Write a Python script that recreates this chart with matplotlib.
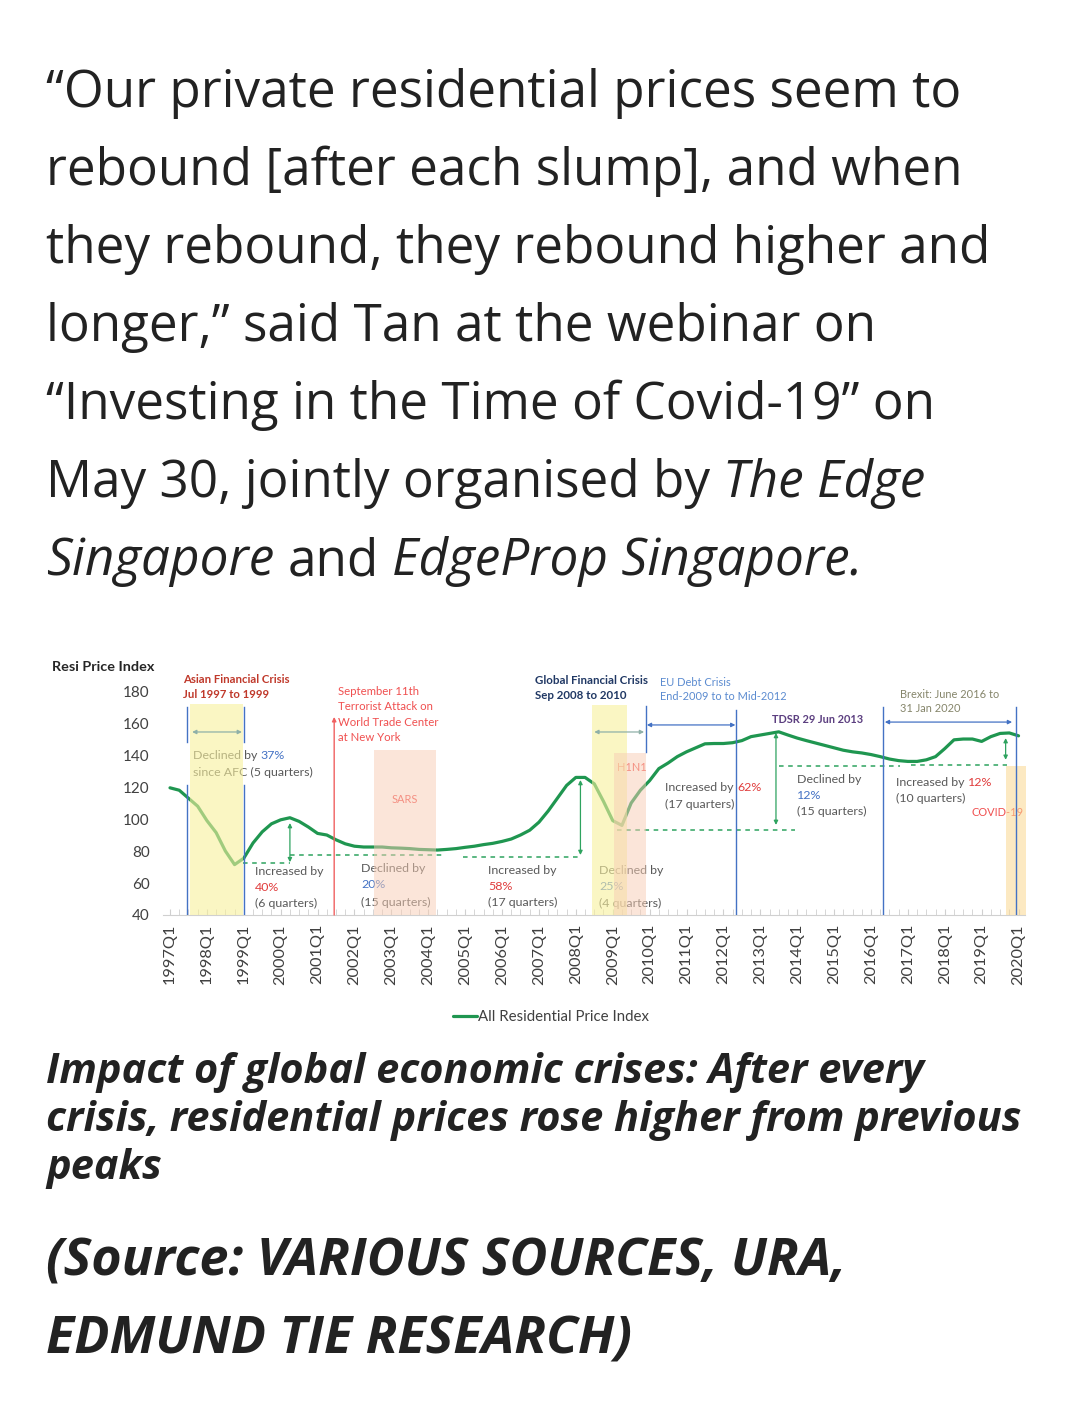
import matplotlib
matplotlib.use('Agg')
import matplotlib.pyplot as plt
from matplotlib.transforms import Affine2D, IdentityTransform

# all residential price index, one value per quarter from 1997Q1 to 2020Q1
resi_index = [119.5, 118, 113, 108, 99, 91.5, 80, 71.5, 75.5, 85,
              92, 97, 99.5, 100.8, 98.5, 95, 91, 90, 87, 84.5,
              83, 82.5, 82.5, 82.5, 82, 81.8, 81.5, 81, 80.8, 80.6,
              81, 81.5, 82.3, 83, 84, 84.8, 86, 87.5, 90, 93,
              98, 105, 113, 121, 126, 126, 122, 111, 99, 96,
              110, 118, 124, 131.5, 135, 139, 142, 144.5, 147, 147.2,
              147.2, 147.7, 149, 151.5, 152.5, 153.5, 154.5, 152.5, 150.6, 149,
              147.5, 146, 144.5, 143, 142, 141.3, 140.3, 139, 137.5, 136.5,
              136, 136, 137, 139, 144, 149.5, 150, 150, 148.5, 151.5,
              153.5, 153.8, 152]
years = list(range(1997, 2021))
year_labels = [f'{y}Q1' for y in years]
y_ticks = [40, 60, 80, 100, 120, 140, 160, 180]

# shaded periods: (start quarter, end quarter, top value)
afc_band = (2.2, 7.9, 172)
sars_band = (22.1, 28.8, 143)
gfc_band = (45.8, 49.5, 171.3)
h1n1_band = (48.1, 51.6, 141.3)
covid_band = (90.6, 92.8, 133)

paragraph = [
    [('\u201cOur private residential prices seem to', 'normal')],
    [('rebound [after each slump], and when', 'normal')],
    [('they rebound, they rebound higher and', 'normal')],
    [('longer,\u201d said Tan at the webinar on', 'normal')],
    [('\u201cInvesting in the Time of Covid-19\u201d on', 'normal')],
    [('May 30, jointly organised by ', 'normal'), ('The Edge', 'italic')],
    [('Singapore', 'italic'), (' and ', 'normal'), ('EdgeProp Singapore.', 'italic')],
]
caption = ['Impact of global economic crises: After every',
           'crisis, residential prices rose higher from previous',
           'peaks']
source = ['(Source: VARIOUS SOURCES, URA,', 'EDMUND TIE RESEARCH)']

W, H = 1079, 1412
fig = plt.figure(figsize=(W / 100, H / 100), dpi=100)
renderer = fig.canvas.get_renderer()
TXT = '#222222'
BODY_FONT = 'Open Sans'
CHART_FONT = 'Lato'


def text_width(s, **kw):
    t = fig.text(0, 0, 'x' + s + 'x', **kw)
    w = t.get_window_extent(renderer).width
    t.remove()
    t = fig.text(0, 0, 'xx', **kw)
    w -= t.get_window_extent(renderer).width
    t.remove()
    return w


def fit_size(s, target, **kw):
    return 20 * target / text_width(s, fontsize=20, **kw)


def draw_runs(draw, x0, parts, space):
    # each run is put right after the ink of the previous one
    cur = x0
    pending = 0
    for s, style in parts:
        pending += len(s) - len(s.lstrip(' '))
        body = s.strip(' ')
        t = draw(cur + pending * space(style), body, style)
        cur = t.get_window_extent(renderer).x1
        pending = len(s) - len(s.rstrip(' '))


def fig_runs(x, y, parts, **kw):
    # x, y in image pixels from the top left, y is the baseline
    def draw(px, s, style):
        tr = IdentityTransform() + Affine2D().translate(px, H - y)
        return fig.text(0, 0, s, transform=tr, va='baseline', fontstyle=style, **kw)

    def space(style):
        return text_width(' ', fontstyle=style, **kw)

    draw_runs(draw, x, parts, space)


def ax_runs(ax, x, y, parts, **kw):
    x_disp = ax.transData.transform((x, y))[0]

    def draw(px, s, color):
        tr = ax.transData + Affine2D().translate(px - x_disp, 0)
        return ax.text(x, y, s, transform=tr, va='center', color=color, **kw)

    def space(color):
        return text_width(' ', **kw)

    draw_runs(draw, x_disp, parts, space)


# text above the chart
body_size = fit_size(paragraph[0][0][0], 914, family=BODY_FONT)
for k, line in enumerate(paragraph):
    fig_runs(46, 107 + 78 * k, line, family=BODY_FONT, fontsize=body_size, color=TXT)

# chart
ax = fig.add_axes([163 / W, 1 - 915 / H, (1025 - 163) / W, (915 - 660) / H])
ax.set_xlim(-0.76, 92.7)
ax.set_ylim(40, 199.4)
for s in ['top', 'right', 'left']:
    ax.spines[s].set_visible(False)
ax.spines['bottom'].set_color('#d0d0d0')
ax.set_yticks(y_ticks)
ax.set_yticklabels([str(v) for v in y_ticks], family=CHART_FONT)
ax.tick_params(axis='y', length=0, labelsize=11, labelcolor='#404040', pad=9.5)
ax.set_xticks([(y - 1997) * 4 for y in years])
ax.set_xticklabels(year_labels, rotation=90, family=CHART_FONT)
ax.set_xticks(range(len(resi_index)), minor=True)
ax.tick_params(axis='x', which='both', length=4, direction='in', color='#d0d0d0',
               labelsize=11.8, labelcolor='#404040', pad=6.5)

line, = ax.plot(range(len(resi_index)), resi_index, color='#1f9650', lw=2.3, zorder=3,
                solid_capstyle='round', label='All Residential Price Index')


def band(b, color, alpha):
    ax.fill_between([b[0], b[1]], 40, b[2], color=color, alpha=alpha, lw=0, zorder=4)


band(afc_band, '#f7f09c', 0.6)
band(sars_band, '#f8cdb4', 0.5)
band(gfc_band, '#f7f09c', 0.6)
band(h1n1_band, '#f8cdb4', 0.5)
band(covid_band, '#fbd890', 0.55)

BLUE = '#4472c4'
RED = '#e03c3c'
GREEN = '#2ea35f'
GREY = '#595959'
ARROW = '#8fb0a8'


def vline(x, y0, y1, color=BLUE, lw=1.0):
    ax.plot([x, x], [y0, y1], color=color, lw=lw, zorder=5)


def harrow(x0, x1, y, color):
    ax.annotate('', xy=(x1, y), xytext=(x0, y),
                arrowprops=dict(arrowstyle='<|-|>', color=color, lw=0.9,
                                mutation_scale=6, shrinkA=0, shrinkB=0), zorder=5)


def varrow(x, y0, y1):
    ax.annotate('', xy=(x, y1), xytext=(x, y0),
                arrowprops=dict(arrowstyle='<|-|>', color=GREEN, lw=0.9,
                                mutation_scale=6, shrinkA=0, shrinkB=0), zorder=5)


def dashed(x0, x1, y):
    ax.plot([x0, x1], [y, y], color=GREEN, lw=1.1, ls=(0, (3, 3)), zorder=3)


small = dict(family=CHART_FONT, fontsize=8.9)
note = dict(family=CHART_FONT, fontsize=7.9)

# Asian Financial Crisis
vline(1.84, 148, 170)
vline(1.84, 40, 121.3)
vline(8.03, 148, 170)
vline(8.03, 40, 121.3)
harrow(2.4, 7.8, 154.4, ARROW)
kw = dict(family=CHART_FONT, fontsize=8.2, fontweight='bold')
ax.text(1.4, 186.9, 'Asian Financial Crisis', color='#c0392b', va='center', **kw)
ax.text(1.4, 178, 'Jul 1997 to 1999', color='#c0392b', va='center', **kw)

ax_runs(ax, 2.5, 139.4, [('Declined by ', GREY), ('37%', BLUE)], **small)
ax.text(2.5, 129.4, 'since AFC (5 quarters)', color=GREY, va='center', **small)

# September 11th
ax.annotate('', xy=(17.8, 163.8), xytext=(17.8, 40),
            arrowprops=dict(arrowstyle='-|>', color='#f06060', lw=1.0,
                            mutation_scale=6, shrinkA=0, shrinkB=0), zorder=5)
for k, s in enumerate(['September 11th', 'Terrorist Attack on',
                       'World Trade Center', 'at New York']):
    ax.text(18.2, 180 - k * 9.7, s, color='#f05050', va='center', family=CHART_FONT, fontsize=8.2)

ax.text(25.5, 111.9, 'SARS', color='#f05050', ha='center', va='center', **note)

# measurement lines
dashed(7.9, 13, 72.5)
varrow(13, 73, 97.5)
dashed(13, 29.8, 77.8)
dashed(31.8, 44.5, 76.3)
varrow(44.5, 77.5, 124.4)
dashed(48.5, 67.8, 93.1)
varrow(65.7, 96.3, 153.8)
dashed(66, 79.2, 133.1)
dashed(80.3, 90.8, 133.8)
varrow(90.6, 137, 150.6)

# Global Financial Crisis / H1N1
kw = dict(family=CHART_FONT, fontsize=8.3, fontweight='bold', color='#203864', va='center')
ax.text(39.6, 186.3, 'Global Financial Crisis', **kw)
ax.text(39.6, 176.9, 'Sep 2008 to 2010', **kw)
harrow(46, 51.4, 154.4, ARROW)
vline(51.6, 141.9, 170.6)
ax.text(50.1, 132.5, 'H1N1', color='#f05050', ha='center', va='center', **note)

# EU debt crisis
ax.text(53.1, 185.6, 'EU Debt Crisis', color='#5b8bd0', va='center', family=CHART_FONT, fontsize=7.9)
ax.text(53.1, 176.3, 'End-2009 to to Mid-2012', color='#5b8bd0', va='center', family=CHART_FONT, fontsize=7.9)
harrow(51.7, 61.3, 158.8, BLUE)
vline(61.4, 40, 168)

ax.text(65.3, 161.9, 'TDSR 29 Jun 2013', color='#5c3f80', va='center', family=CHART_FONT,
        fontsize=7.9, fontweight='bold')

# Brexit
ax.text(79.2, 178.1, 'Brexit: June 2016 to', color='#85856a', va='center', family=CHART_FONT, fontsize=7.9)
ax.text(79.2, 168.8, '31 Jan 2020', color='#85856a', va='center', family=CHART_FONT, fontsize=7.9)
vline(77.3, 40, 170)
vline(91.75, 40, 170)
harrow(77.5, 91.3, 160.6, BLUE)

ax.text(86.9, 103.8, 'COVID-19', color='#f05050', va='center', **note)

# change labels
ax.text(9.2, 66.9, 'Increased by', color=GREY, va='center', **small)
ax.text(9.2, 56.9, '40%', color=RED, va='center', **small)
ax.text(9.2, 47.5, '(6 quarters)', color=GREY, va='center', **small)

ax.text(20.7, 68.8, 'Declined by', color=GREY, va='center', **small)
ax.text(20.7, 58.8, '20%', color=BLUE, va='center', **small)
ax.text(20.7, 48.1, '(15 quarters)', color=GREY, va='center', **small)

ax.text(34.5, 68.1, 'Increased by', color=GREY, va='center', **small)
ax.text(34.5, 58.1, '58%', color=RED, va='center', **small)
ax.text(34.5, 48.1, '(17 quarters)', color=GREY, va='center', **small)

ax.text(46.5, 68.1, 'Declined by', color=GREY, va='center', zorder=2, **small)
ax.text(46.5, 58.1, '25%', color=BLUE, va='center', zorder=2, **small)
ax.text(46.5, 47.5, '(4 quarters)', color=GREY, va='center', zorder=2, **small)

ax_runs(ax, 53.7, 119.4, [('Increased by ', GREY), ('62%', RED)], **small)
ax.text(53.7, 109.4, '(17 quarters)', color=GREY, va='center', **small)

ax.text(68, 125, 'Declined by', color=GREY, va='center', **small)
ax.text(68, 114.4, '12%', color=BLUE, va='center', **small)
ax.text(68, 104.4, '(15 quarters)', color=GREY, va='center', **small)

ax_runs(ax, 78.7, 123.1, [('Increased by ', GREY), ('12%', RED)], **small)
ax.text(78.7, 113.1, '(10 quarters)', color=GREY, va='center', **small)

fig.text(52 / W, 1 - 667 / H, 'Resi Price Index', family=CHART_FONT, fontsize=10.4,
         fontweight='bold', color='#262626', va='center')

ax.legend(handles=[line], loc='center', bbox_to_anchor=(551 / W, 1 - 1017 / H),
          bbox_transform=fig.transFigure, frameon=False, handlelength=1.6,
          handletextpad=0.1, prop=dict(family=CHART_FONT, size=10.8), labelcolor='#404040')

# caption and source
cap_size = fit_size(caption[1], 974, family=BODY_FONT, fontweight='bold', fontstyle='italic')
for k, s in enumerate(caption):
    fig_runs(46, 1083 + 48 * k, [(s, 'italic')], family=BODY_FONT, fontsize=cap_size,
             fontweight='bold', color=TXT)

src_size = fit_size(source[0], 800, family=BODY_FONT, fontweight='bold', fontstyle='italic')
for k, s in enumerate(source):
    fig_runs(46, 1275 + 78 * k, [(s, 'italic')], family=BODY_FONT, fontsize=src_size,
             fontweight='bold', color=TXT)

fig.savefig('out.png', dpi=100)
